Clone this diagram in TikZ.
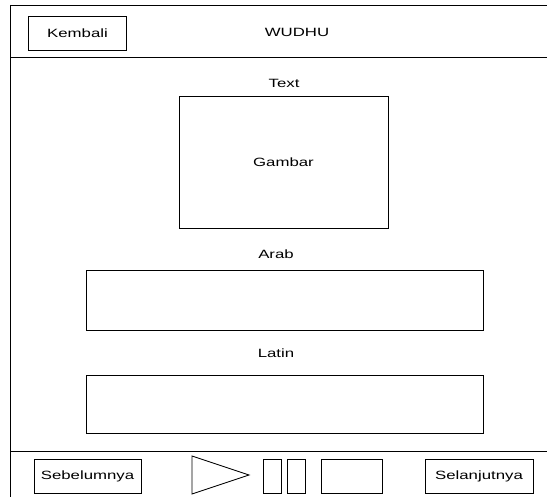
\documentclass[tikz,border=0pt]{standalone}
\usepackage{fontspec}
\setmainfont{Liberation Sans}[FakeStretch=1.4]
\usetikzlibrary{
  positioning
  }

\begin{document}
\begin{tikzpicture}[x=1pt, y=-1pt, line width=0.8pt]
  \tikzstyle{every node}=[font=\fontsize{12}{14}\selectfont]
  \tikzstyle{box}=[draw, inner sep=0pt, minimum height=34pt]
  \useasboundingbox (0,0) rectangle (547,497);
  % frame
  \draw (10,5) -- (547,5);
  \draw (10,5) -- (10,497);
  \draw (10,57) -- (547,57);
  \draw (10,451) -- (547,451);
  %
  \node[box, minimum width=98pt] (kembali) at (77.5,33) {Kembali};
  \node (judul) at (297,32) {WUDHU};
  %
  \node (text) at (284,83) {Text};
  \node[box, minimum width=209pt, minimum height=132pt] (gambar) at (283.5,162) {Gambar};
  \node (arab) at (276,254) {Arab};
  \node[box, minimum width=397pt, minimum height=60pt] (kotakarab) at (284.5,300) {};
  \node (latin) at (276,353) {Latin};
  \node[box, minimum width=397pt, minimum height=58pt] (kotaklatin) at (284.5,404) {};
  %
  \node[box, minimum width=107pt] (sebelum) at (87.5,476) {Sebelumnya};
  \draw (192,456) -- (249,475) -- (192,494) -- cycle;
  \node[box, minimum width=18pt] (jeda1) at (272,476) {};
  \node[box, minimum width=18pt] (jeda2) at (296,476) {};
  \node[box, minimum width=61pt] (stop) at (351.5,476) {};
  \node[box, minimum width=108pt] (lanjut) at (479,476) {Selanjutnya};
\end{tikzpicture}
\end{document}
